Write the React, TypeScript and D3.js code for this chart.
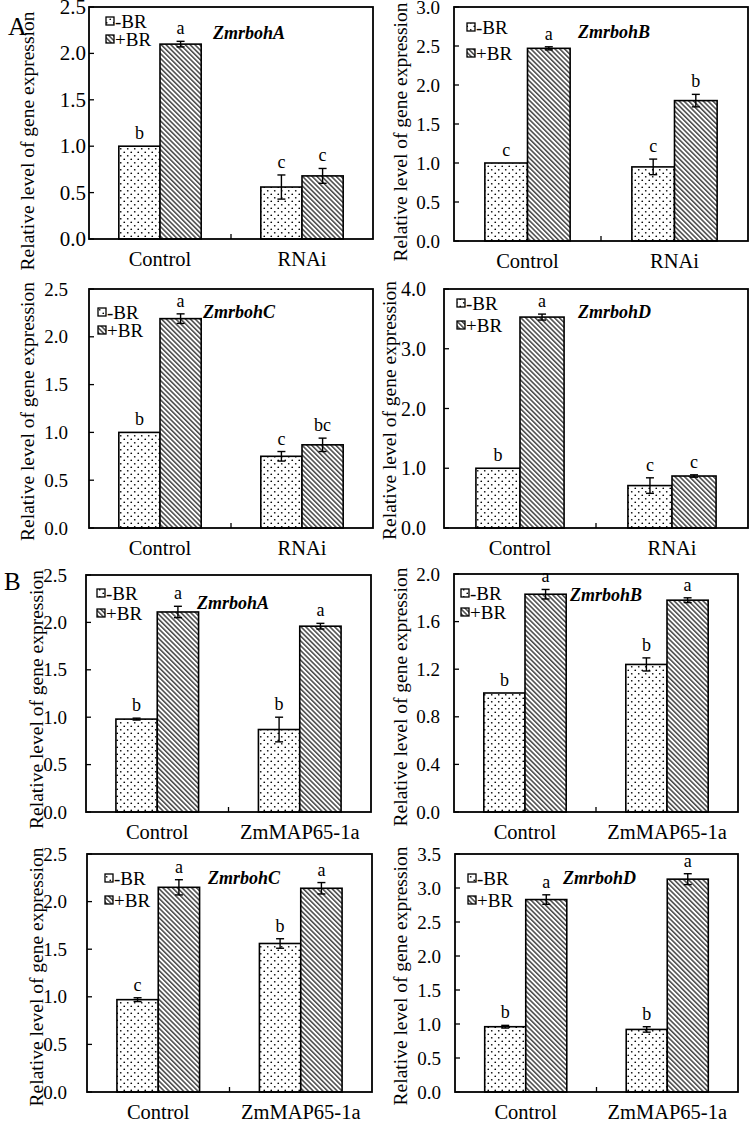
import React from 'react';
import * as d3 from 'd3';

// DATA
const genes = ['ZmrbohA', 'ZmrbohB', 'ZmrbohC', 'ZmrbohD'];
const treatments = ['-BR', '+BR'];
const groupsA = ['Control', 'RNAi'];
const groupsB = ['Control', 'ZmMAP65-1a'];

// order in each row: group1 -BR, group1 +BR, group2 -BR, group2 +BR
const meansA = [
  [1.0, 2.1, 0.56, 0.68],
  [1.0, 2.47, 0.95, 1.8],
  [1.0, 2.19, 0.75, 0.87],
  [1.0, 3.53, 0.71, 0.87],
];
const errorsA = [
  [0, 0.03, 0.13, 0.08],
  [0, 0.02, 0.1, 0.08],
  [0, 0.05, 0.05, 0.07],
  [0, 0.05, 0.13, 0.02],
];
const lettersA = [
  ['b', 'a', 'c', 'c'],
  ['c', 'a', 'c', 'b'],
  ['b', 'a', 'c', 'bc'],
  ['b', 'a', 'c', 'c'],
];
const meansB = [
  [0.98, 2.11, 0.87, 1.96],
  [1.0, 1.83, 1.24, 1.78],
  [0.97, 2.15, 1.56, 2.14],
  [0.96, 2.83, 0.92, 3.13],
];
const errorsB = [
  [0.01, 0.06, 0.13, 0.03],
  [0, 0.04, 0.055, 0.02],
  [0.02, 0.08, 0.05, 0.06],
  [0.02, 0.07, 0.04, 0.08],
];
const lettersB = [
  ['b', 'a', 'b', 'a'],
  ['b', 'a', 'b', 'a'],
  ['c', 'a', 'b', 'a'],
  ['b', 'a', 'b', 'a'],
];
const yMaxA = [2.5, 3.0, 2.5, 4.0];
const yStepA = [0.5, 0.5, 0.5, 1.0];
const yMaxB = [2.5, 2.0, 2.5, 3.5];
const yStepB = [0.5, 0.4, 0.5, 0.5];

// LAYOUT (pixel boxes of the 8 panels)
const layout = [
  { l: 89, t: 7, r: 373, b: 239, tickEnd: 86, tickFont: 21, titleX: 27, titleDy: 18, legX: 106, legY: [21, 39], geneX: 213, geneY: 33 },
  { l: 454, t: 7, r: 748, b: 241, tickEnd: 440, tickFont: 19, titleX: 400, titleDy: 8, legX: 467, legY: [27, 53], geneX: 578, geneY: 32 },
  { l: 89, t: 289, r: 373, b: 528, tickEnd: 68, tickFont: 19, titleX: 27, titleDy: 3, legX: 98, legY: [312, 330], geneX: 203, geneY: 312 },
  { l: 444, t: 289, r: 748, b: 528, tickEnd: 426, tickFont: 20, titleX: 389, titleDy: 2, legX: 457, legY: [303, 325], geneX: 578, geneY: 312 },
  { l: 86, t: 575, r: 371, b: 812, tickEnd: 67, tickFont: 19, titleX: 36, titleDy: 6, legX: 97, legY: [593, 613], geneX: 197, geneY: 603 },
  { l: 454, t: 574, r: 738, b: 812, tickEnd: 440, tickFont: 19, titleX: 400, titleDy: 4, legX: 461, legY: [593, 612], geneX: 570, geneY: 595 },
  { l: 87, t: 854, r: 372, b: 1092, tickEnd: 67, tickFont: 19, titleX: 36, titleDy: 4, legX: 105, legY: [878, 900], geneX: 208, geneY: 878 },
  { l: 455, t: 854, r: 738, b: 1092, tickEnd: 441, tickFont: 19, titleX: 400, titleDy: 3, legX: 468, legY: [878, 900], geneX: 563, geneY: 878 },
];

const font = "'Liberation Serif', 'Times New Roman', serif";
const fills = ['url(#dots)', 'url(#hatch)'];

type PanelProps = {
  box: (typeof layout)[number];
  gene: string;
  groups: string[];
  means: number[];
  errors: number[];
  letters: string[];
  yMax: number;
  yStep: number;
};

function Panel({ box, gene, groups, means, errors, letters, yMax, yStep }: PanelProps) {
  const y = d3.scaleLinear().domain([0, yMax]).range([box.b, box.t]);
  const x0 = d3.scaleBand().domain(groups).range([box.l, box.r]).paddingInner(0.42).paddingOuter(0.21);
  const x1 = d3.scaleBand().domain(treatments).range([0, x0.bandwidth()]);
  const ticks = d3.range(0, yMax + 1e-9, yStep);
  const midX = (box.l + box.r) / 2;
  const cy = (box.t + box.b) / 2 + box.titleDy;

  const bars = groups.flatMap((g, gi) =>
    treatments.map((tr, ti) => {
      const k = gi * 2 + ti;
      return { g, tr, ti, v: means[k], e: errors[k], letter: letters[k] };
    })
  );

  return (
    <g>
      {/* y axis title */}
      <text
        transform={`translate(${box.titleX},${cy}) rotate(-90)`}
        textAnchor="middle"
        dominantBaseline="central"
        fontSize={19.5}
        fontFamily={font}
      >
        Relative level of gene expression
      </text>

      {/* y tick labels + inner ticks */}
      {ticks.map((t) => (
        <g key={t}>
          <text x={box.tickEnd} y={y(t)} textAnchor="end" dominantBaseline="central" fontSize={box.tickFont} fontFamily={font}>
            {t.toFixed(1)}
          </text>
          <line x1={box.l} x2={box.l + 5} y1={y(t)} y2={y(t)} stroke="#000" strokeWidth={1.3} />
        </g>
      ))}

      {/* bars */}
      {bars.map((d) => {
        const bx = (x0(d.g) as number) + (x1(d.tr) as number);
        const bw = x1.bandwidth();
        const cx = bx + bw / 2;
        const top = y(d.v + d.e);
        return (
          <g key={d.g + d.tr}>
            <rect x={bx} y={y(d.v)} width={bw} height={box.b - y(d.v)} fill={fills[d.ti]} stroke="#000" strokeWidth={1.6} />
            {d.e > 0 && (
              <g stroke="#000" strokeWidth={1.4}>
                <line x1={cx} x2={cx} y1={y(d.v - d.e)} y2={top} />
                <line x1={cx - 4} x2={cx + 4} y1={top} y2={top} />
                <line x1={cx - 4} x2={cx + 4} y1={y(d.v - d.e)} y2={y(d.v - d.e)} />
              </g>
            )}
            <text x={cx} y={top - 7} textAnchor="middle" fontSize={18} fontFamily={font}>
              {d.letter}
            </text>
          </g>
        );
      })}

      {/* frame */}
      <rect x={box.l} y={box.t} width={box.r - box.l} height={box.b - box.t} fill="none" stroke="#000" strokeWidth={1.8} />
      <line x1={midX} x2={midX} y1={box.b} y2={box.b - 5} stroke="#000" strokeWidth={1.3} />

      {/* x labels */}
      {groups.map((g) => (
        <text key={g} x={(x0(g) as number) + x0.bandwidth() / 2} y={box.b + 27} textAnchor="middle" fontSize={20.5} fontFamily={font}>
          {g}
        </text>
      ))}

      {/* legend */}
      {treatments.map((tr, i) => (
        <g key={tr}>
          <rect x={box.legX} y={box.legY[i] - 4} width={8} height={8} fill={fills[i]} stroke="#000" strokeWidth={1.3} />
          <text x={box.legX + 9} y={box.legY[i]} dominantBaseline="central" fontSize={19} fontFamily={font}>
            {tr}
          </text>
        </g>
      ))}

      {/* gene name */}
      <text x={box.geneX} y={box.geneY} dominantBaseline="central" fontSize={18} fontWeight="bold" fontStyle="italic" fontFamily={font}>
        {gene}
      </text>
    </g>
  );
}

export default function App() {
  const panels = [
    ...genes.map((gene, i) => ({
      gene,
      groups: groupsA,
      means: meansA[i],
      errors: errorsA[i],
      letters: lettersA[i],
      yMax: yMaxA[i],
      yStep: yStepA[i],
    })),
    ...genes.map((gene, i) => ({
      gene,
      groups: groupsB,
      means: meansB[i],
      errors: errorsB[i],
      letters: lettersB[i],
      yMax: yMaxB[i],
      yStep: yStepB[i],
    })),
  ];

  return (
    <svg width={750} height={1122} style={{ position: 'absolute', left: 0, top: 0, background: '#fff' }}>
      <defs>
        <pattern id="dots" width={7} height={7} patternUnits="userSpaceOnUse">
          <rect width={7} height={7} fill="#fff" />
          <circle cx={1.75} cy={1.75} r={0.85} fill="#000" />
          <circle cx={5.25} cy={5.25} r={0.85} fill="#000" />
        </pattern>
        <pattern id="hatch" width={3.4} height={3.4} patternUnits="userSpaceOnUse" patternTransform="rotate(-45)">
          <rect width={3.4} height={3.4} fill="#fff" />
          <line x1={0.8} x2={0.8} y1={0} y2={3.4} stroke="#000" strokeWidth={1.1} />
        </pattern>
      </defs>

      {panels.map((p, i) => (
        <Panel key={i} box={layout[i]} {...p} />
      ))}

      <text x={8} y={35} fontSize={26} fontFamily={font}>A</text>
      <text x={4} y={590} fontSize={25} fontFamily={font}>B</text>
    </svg>
  );
}
